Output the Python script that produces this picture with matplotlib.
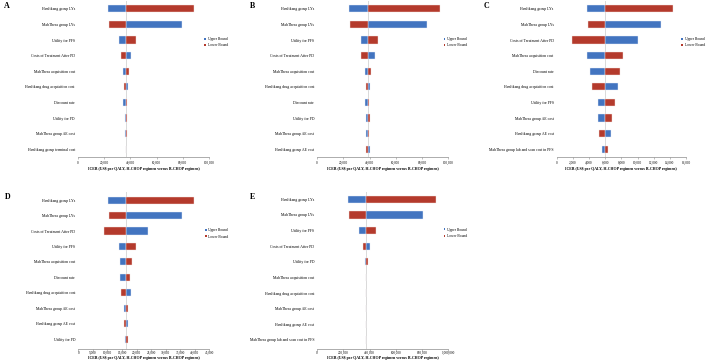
"""
Tornado diagrams for one-way sensitivity analysis (panels A-E)
"""
import numpy as np
import matplotlib
matplotlib.use('Agg')
import matplotlib.pyplot as plt
from matplotlib.patches import Patch
from matplotlib.ticker import FuncFormatter

plt.rcParams['font.family'] = ['Liberation Serif', 'DejaVu Serif']

BLUE = '#4274c0'
RED = '#b43a2c'

# Panel A
params_a = ["Hanlikang group LYs", "MabThera group LYs", "Utility for PFS",
            "Costs of Treatment After PD", "MabThera acquisition cost",
            "Hanlikang drug acquisition cost", "Discount rate", "Utility for PD",
            "MabThera group AE cost", "Hanlikang group terminal cost"]
base_a = 36400
upper_a = [22900, 79400, 31300, 40700, 34400, 38200, 34400, 35600, 35700, 36350]
lower_a = [88500, 23900, 44000, 32600, 38900, 34900, 37200, 37700, 37600, 36450]

# Panel B
params_b = ["Hanlikang group LYs", "MabThera group LYs", "Utility for PFS",
            "Costs of Treatment After PD", "MabThera acquisition cost",
            "Hanlikang drug acquisition cost", "Discount rate", "Utility for PD",
            "MabThera group AE cost", "Hanlikang group AE cost"]
base_b = 38900
upper_b = [24400, 83700, 33100, 43800, 36400, 40500, 36600, 37600, 37600, 40100]
lower_b = [94100, 25200, 46800, 33800, 41000, 37200, 39300, 40000, 39900, 37600]

# Panel C
params_c = ["Hanlikang group LYs", "MabThera group LYs", "Costs of Treatment After PD",
            "MabThera acquisition cost", "Discount rate",
            "Hanlikang drug acquisition cost", "Utility for PFS",
            "MabThera group AE cost", "Hanlikang group AE cost",
            "MabThera group lab and scan cost in PFS"]
base_c = 5950
upper_c = [3790, 12900, 10020, 3710, 4160, 7630, 5110, 5150, 6760, 5650]
lower_c = [14430, 3920, 1940, 8250, 7840, 4370, 7220, 6800, 5240, 6310]

# Panel D
params_d = ["Hanlikang group LYs", "MabThera group LYs", "Costs of Treatment After PD",
            "Utility for PFS", "MabThera acquisition cost", "Discount rate",
            "Hanlikang drug acquisition cost", "MabThera group AE cost",
            "Hanlikang group AE cost", "Utility for PD"]
base_d = 16380
upper_d = [10300, 35500, 23800, 13970, 14200, 14430, 17980, 15580, 17070, 15920]
lower_d = [39630, 10650, 8930, 19700, 18560, 17750, 14780, 17180, 15690, 16950]

# Panel E
params_e = ["Hanlikang group LYs", "MabThera group LYs", "Utility for PFS",
            "Costs of Treatment After PD", "Utility for PD",
            "MabThera acquisition cost", "Hanlikang drug acquisition cost",
            "MabThera group AE cost", "Hanlikang group AE cost",
            "MabThera group lab and scan cost in PFS"]
base_e = 374000
upper_e = [236600, 809200, 318000, 399500, 361300, 373000, 375000, 374000, 374000, 374000]
lower_e = [905900, 244300, 450400, 348600, 384200, 375000, 373000, 374000, 374000, 374000]

XLABEL = "ICER (US$ per QALY, H-CHOP regimen versus R-CHOP regimen)"


def draw_panel(ax, params, base, upper, lower, xmax, step, ybottom, tight=False):
    y = np.arange(len(params))
    ax.axvline(base, color='#d9d9d9', linewidth=0.7, zorder=0)
    ax.barh(y, np.array(upper) - base, left=base, height=0.46,
            color=BLUE, edgecolor='#e8eef8', linewidth=0.3, zorder=2)
    ax.barh(y, np.array(lower) - base, left=base, height=0.46,
            color=RED, edgecolor='#f4e4e2', linewidth=0.3, zorder=2)

    ax.set_xlim(0, xmax)
    ax.set_ylim(ybottom, -0.5)
    ax.set_xticks(np.arange(0, xmax + step / 2, step))
    ax.xaxis.set_major_formatter(FuncFormatter(lambda v, p: f"{int(v):,}"))
    ax.set_yticks(y)
    ax.set_yticklabels(params)

    for s in ['top', 'right', 'left']:
        ax.spines[s].set_visible(False)
    ax.spines['bottom'].set_color('#8c8c8c')
    ax.spines['bottom'].set_linewidth(0.5)
    ax.tick_params(axis='y', length=0, pad=2.2, labelsize=2.8)
    ax.tick_params(axis='x', length=1.3, width=0.4, color='#8c8c8c',
                   pad=0.4 if tight else 1.2, labelsize=2.4)
    ax.set_xlabel(XLABEL, fontsize=2.75, fontweight='bold',
                  labelpad=0.4 if tight else 1.5)

    handles = [Patch(facecolor=BLUE, label='Upper Bound'),
               Patch(facecolor=RED, label='Lower Bound')]
    ax.legend(handles=handles, loc='upper left', bbox_to_anchor=(0.965, 0.77),
              frameon=False, fontsize=2.6, handlelength=0.5, handleheight=0.5,
              handletextpad=0.4, labelspacing=0.6, borderaxespad=0, borderpad=0)


fig = plt.figure(figsize=(7.08, 3.61), dpi=100)

ax_a = fig.add_axes([0.1102, 0.565, 0.185, 0.432])
ax_b = fig.add_axes([0.448, 0.565, 0.185, 0.432])
ax_c = fig.add_axes([0.7863, 0.565, 0.1826, 0.432])
ax_d = fig.add_axes([0.1106, 0.0332, 0.185, 0.434])
ax_e = fig.add_axes([0.448, 0.0332, 0.185, 0.4363])

draw_panel(ax_a, params_a, base_a, upper_a, lower_a, 100000, 20000, 9.5)
draw_panel(ax_b, params_b, base_b, upper_b, lower_b, 100000, 20000, 9.5)
draw_panel(ax_c, params_c, base_c, upper_c, lower_c, 16000, 2000, 9.5)
draw_panel(ax_d, params_d, base_d, upper_d, lower_d, 45000, 5000, 9.63, tight=True)
draw_panel(ax_e, params_e, base_e, upper_e, lower_e, 1000000, 200000, 9.58, tight=True)

# panel letters
for letter, (lx, ly) in zip("ABCDE", [(4, 2), (250, 2), (484, 2), (5, 193), (250, 193)]):
    fig.text(lx / 708, 1 - ly / 361, letter, fontsize=5.8, fontweight='bold',
             va='top', ha='left')

fig.savefig('out.png', dpi=100)
